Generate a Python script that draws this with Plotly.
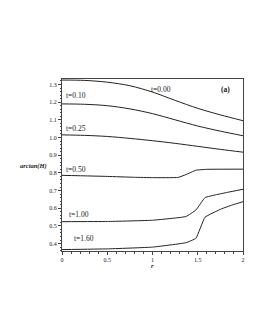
import plotly.graph_objects as go

# ---- data ----
r_t000 = [0, 0.25, 0.5, 0.75, 1.0, 1.25, 1.5, 1.75, 2.0]
h_t000 = [1.325, 1.323, 1.313, 1.293, 1.257, 1.21, 1.165, 1.128, 1.095]

r_t010 = [0, 0.25, 0.5, 0.75, 1.0, 1.25, 1.5, 1.75, 2.0]
h_t010 = [1.19, 1.188, 1.18, 1.162, 1.135, 1.1, 1.065, 1.036, 1.01]

r_t025 = [0, 0.25, 0.5, 0.75, 1.0, 1.25, 1.5, 1.75, 2.0]
h_t025 = [1.015, 1.012, 1.006, 0.995, 0.982, 0.967, 0.95, 0.933, 0.917]

r_t050 = [0, 0.5, 0.8, 1.0, 1.28, 1.37, 1.48, 1.6, 2.0]
h_t050 = [0.786, 0.78, 0.775, 0.773, 0.774, 0.79, 0.815, 0.82, 0.821]

r_t100 = [0, 0.5, 1.0, 1.37, 1.48, 1.58, 1.7, 1.83, 2.0]
h_t100 = [0.524, 0.525, 0.532, 0.553, 0.59, 0.66, 0.676, 0.69, 0.707]

r_t160 = [0, 0.5, 1.0, 1.37, 1.48, 1.58, 1.76, 1.88, 2.0]
h_t160 = [0.366, 0.37, 0.38, 0.405, 0.43, 0.549, 0.596, 0.618, 0.637]

series = [
    (r_t000, h_t000, 0.9), (r_t010, h_t010, 0.9), (r_t025, h_t025, 0.9),
    (r_t050, h_t050, 0.3), (r_t100, h_t100, 0.3), (r_t160, h_t160, 0.3),
]

curve_labels = ["t=0.00", "t=0.10", "t=0.25", "t=0.50", "t=1.00", "t=1.60"]
label_x = [1.09, 0.155, 0.155, 0.155, 0.19, 0.245]
label_y = [1.273, 1.238, 1.05, 0.82, 0.567, 0.426]

x_ticks = [0, 0.5, 1, 1.5, 2]
x_ticklabels = ["0", "0.5", "1", "1.5", "2"]
y_ticks = [0.4, 0.5, 0.6, 0.7, 0.8, 0.9, 1.0, 1.1, 1.2, 1.3]
y_ticklabels = ["0.4", "0.5", "0.6", "0.7", "0.8", "0.9", "1.0", "1.1", "1.2", "1.3"]

FONT = "Liberation Serif"
TXT = "#1a1a1a"

fig = go.Figure()
for rr, hh, sm in series:
    fig.add_trace(go.Scatter(x=rr, y=hh, mode="lines",
                             line=dict(color="#222222", width=1,
                                       shape="spline", smoothing=sm),
                             showlegend=False, hoverinfo="skip"))

for txt, lx, ly in zip(curve_labels, label_x, label_y):
    fig.add_annotation(x=lx, y=ly, text=txt, showarrow=False,
                       font=dict(family=FONT, size=7.5, color=TXT),
                       xanchor="center", yanchor="middle")

fig.add_annotation(x=1.81, y=1.272, text="<b>(a)</b>", showarrow=False,
                   font=dict(family=FONT, size=7.5, color=TXT),
                   xanchor="center", yanchor="middle")

fig.add_annotation(xref="paper", yref="paper", x=-0.16, y=0.494,
                   text="<b><i>arctan(H)</i></b>", showarrow=False,
                   font=dict(family=FONT, size=6.5, color=TXT),
                   xanchor="center", yanchor="middle")
fig.add_annotation(xref="paper", yref="paper", x=0.501, y=-0.083,
                   text="<b><i>r</i></b>", showarrow=False,
                   font=dict(family=FONT, size=6.5, color=TXT),
                   xanchor="center", yanchor="middle")

axis_common = dict(showgrid=False, zeroline=False, showline=True,
                   linecolor="#444", linewidth=1, mirror=True,
                   ticks="outside", ticklen=3, tickwidth=1, tickcolor="#444",
                   tickfont=dict(family=FONT, size=6, color=TXT))

fig.update_xaxes(range=[0, 2], tickmode="array", tickvals=x_ticks,
                 ticktext=x_ticklabels,
                 minor=dict(ticks="outside", ticklen=1.5, dtick=0.1,
                            tickcolor="#444"),
                 **axis_common)
fig.update_yaxes(range=[0.358, 1.331], tickmode="array", tickvals=y_ticks,
                 ticktext=y_ticklabels,
                 minor=dict(ticks="outside", ticklen=1.5, dtick=0.02,
                            tickcolor="#444"),
                 **axis_common)

fig.update_layout(width=255, height=330,
                  margin=dict(l=54, r=19.5, t=70.5, b=87.3),
                  paper_bgcolor="white", plot_bgcolor="white",
                  font=dict(family=FONT))

fig.write_html("out.html")
